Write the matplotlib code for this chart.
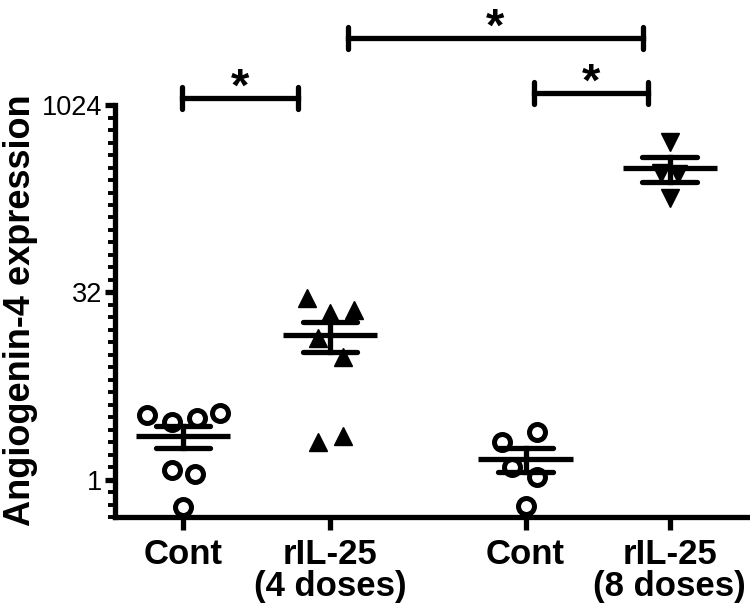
import numpy as np
import matplotlib
matplotlib.use("Agg")
import matplotlib.pyplot as plt
from matplotlib.ticker import FixedLocator, NullFormatter

plt.rcParams['font.family'] = ['Liberation Sans', 'DejaVu Sans']

# data
groups = ["Cont", "rIL-25\n(4 doses)", "Cont", "rIL-25\n(8 doses)"]
xpos = [1, 2, 3.33, 4.31]
cont_4 = [3.3, 2.9, 3.15, 3.45, 1.2, 1.1, 0.6]
ril_4 = [28.9, 21.9, 23.2, 13.8, 9.7, 2.0, 2.25]
cont_8 = [2.43, 2.02, 1.27, 1.04, 0.61]
ril_8 = [519, 183, 290, 288]
values = [cont_4, ril_4, cont_8, ril_8]
markers = ["o", "^", "o", "v"]

# horizontal scatter of the points inside each column
spread = [[-0.247, -0.077, 0.093, 0.252, -0.077, 0.082, 0.0],
          [-0.158, 0.0, 0.163, -0.082, 0.086, -0.082, 0.086],
          [0.08, -0.158, -0.09, 0.08, 0.0],
          [0.0, 0.0, -0.06, 0.06]]

# significance brackets: (x from, x to, height in axes fraction)
brackets = [(0.99, 1.78, 1.017), (2.12, 4.13, 1.163), (3.39, 4.16, 1.029)]

fig = plt.figure(figsize=(7.5, 6.12), dpi=100)
ax = fig.add_axes([0.1533, 0.1552, 0.8467, 0.673])

lw = 3.8
for x, v, m, s in zip(xpos, values, markers, spread):
    v = np.array(v)
    xs = x + np.array(s)
    if m == "o":
        ax.plot(xs, v, m, ms=11.5, mfc="white", mec="black", mew=3.6, ls="none", zorder=2)
    else:
        ax.plot(xs, v, m, ms=13, color="black", ls="none", zorder=2)
    mean = v.mean()
    sem = v.std(ddof=1) / np.sqrt(len(v))
    ax.plot([x - 0.32, x + 0.32], [mean, mean], color="black", lw=lw,
            solid_capstyle="butt", zorder=3)
    for yy in (mean - sem, mean + sem):
        ax.plot([x - 0.185, x + 0.185], [yy, yy], color="black", lw=lw,
                solid_capstyle="round", zorder=3)
    ax.plot([x, x], [mean - sem, mean + sem], color="black", lw=lw, zorder=3)

ax.set_yscale("log", base=2)
ax.set_ylim(0.5, 1024)
ax.set_xlim(0.537, 4.857)
ax.set_yticks([1, 32, 1024])
ax.set_yticklabels(["1", "32", "1024"], fontsize=19.5)
ax.yaxis.set_minor_locator(FixedLocator(2 ** (np.arange(-3, 31) / 3)))
ax.yaxis.set_minor_formatter(NullFormatter())
ax.set_xticks(xpos)
ax.set_xticklabels(groups, fontsize=25, fontweight="bold", linespacing=0.95)

for side in ["top", "right"]:
    ax.spines[side].set_visible(False)
for side in ["left", "bottom"]:
    ax.spines[side].set_linewidth(lw)
ax.tick_params(axis="y", which="major", length=7, width=lw, pad=2)
ax.tick_params(axis="y", which="minor", length=5, width=2.8)
ax.tick_params(axis="x", length=9, width=lw, pad=6)

ax.set_ylabel("Angiogenin-4 expression", fontsize=26, fontweight="bold")
ax.yaxis.set_label_coords(-0.121, 0.502)

tr = ax.get_xaxis_transform()
for x0, x1, h in brackets:
    ax.plot([x0, x1], [h, h], color="black", lw=lw, transform=tr, clip_on=False)
    for xx in (x0, x1):
        ax.plot([xx, xx], [h - 0.027, h + 0.027], color="black", lw=lw,
                solid_capstyle="round", transform=tr, clip_on=False)
    ax.text((x0 + x1) / 2, h - 0.03, "*", ha="center", va="bottom",
            fontsize=34, fontweight="bold", transform=tr)

fig.savefig("out.png", dpi=100)
